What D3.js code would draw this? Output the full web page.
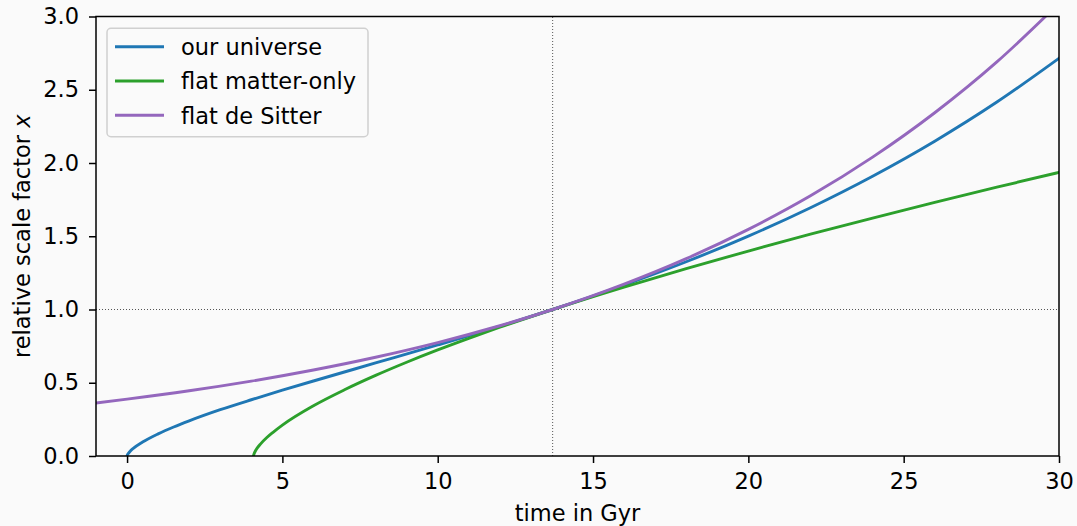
<!DOCTYPE html>
<html lang="en">
<head>
  <meta charset="UTF-8">
  <title>Scale factor vs time</title>
  <script src="https://d3js.org/d3.v7.min.js"></script>
  <style>
    body { margin: 0; background: #fafafa; }
    svg { display: block; font-family: "DejaVu Sans", sans-serif; }
  </style>
</head>
<body>
  <div id="chart"></div>

  <script>
    // curves (time in Gyr, relative scale factor)
    const timeUniverse = [0, 0.01, 0.05, 0.1, 0.2, 0.5, 1, 1.5, 2, 3, 4, 5, 6, 8, 10, 12, 13.7, 16, 18, 20, 22, 24, 26, 28, 30];
    const scaleUniverse = [0, 0.007, 0.020, 0.033, 0.052, 0.095, 0.151, 0.198, 0.240, 0.316, 0.384, 0.449, 0.512, 0.635, 0.758, 0.885, 1.0, 1.167, 1.326, 1.501, 1.695, 1.910, 2.149, 2.416, 2.715];

    const timeMatter = [4.07, 4.08, 4.1, 4.2, 4.3, 4.5, 4.7, 5, 6, 7, 8, 9, 10, 11, 12, 13.7, 16, 18, 20, 22, 24, 26, 28, 30];
    const scaleMatter = [0, 0.010, 0.021, 0.057, 0.083, 0.126, 0.162, 0.211, 0.343, 0.452, 0.550, 0.640, 0.724, 0.803, 0.879, 1.0, 1.153, 1.279, 1.399, 1.514, 1.624, 1.731, 1.835, 1.936];

    const timeSitter = [-1, 0, 2, 4, 6, 8, 10, 12, 13.7, 16, 18, 20, 22, 24, 26, 28, 30];
    const scaleSitter = [0.362, 0.388, 0.445, 0.511, 0.587, 0.674, 0.774, 0.889, 1.0, 1.173, 1.347, 1.547, 1.776, 2.040, 2.343, 2.690, 3.090];

    const seriesNames = ["our universe", "flat matter-only", "flat de Sitter"];
    const seriesColors = ["#1f77b4", "#2ca02c", "#9467bd"];

    const xTicks = [0, 5, 10, 15, 20, 25, 30];
    const yTicks = [0, 0.5, 1.0, 1.5, 2.0, 2.5, 3.0];
    const todayTime = 13.7;
    const todayScale = 1.0;

    const width = 1077, height = 526;
    const margin = { top: 16.5, right: 18, bottom: 70, left: 96 };
    const fontSize = 22.5;

    const svg = d3.select("#chart").append("svg")
      .attr("width", width)
      .attr("height", height);

    svg.append("rect").attr("width", width).attr("height", height).attr("fill", "#fafafa");

    const x = d3.scaleLinear().domain([-1, 30]).range([margin.left, width - margin.right]);
    const y = d3.scaleLinear().domain([0, 3]).range([height - margin.bottom, margin.top]);

    svg.append("clipPath").attr("id", "plot-clip")
      .append("rect")
      .attr("x", x(-1)).attr("y", y(3))
      .attr("width", x(30) - x(-1)).attr("height", y(0) - y(3));

    // reference lines for today
    svg.append("line")
      .attr("x1", x(todayTime)).attr("x2", x(todayTime))
      .attr("y1", y(0)).attr("y2", y(3))
      .attr("stroke", "#555").attr("stroke-width", 1).attr("stroke-dasharray", "1,2");
    svg.append("line")
      .attr("x1", x(-1)).attr("x2", x(30))
      .attr("y1", y(todayScale)).attr("y2", y(todayScale))
      .attr("stroke", "#555").attr("stroke-width", 1).attr("stroke-dasharray", "1,2");

    const series = [
      { t: timeUniverse, a: scaleUniverse },
      { t: timeMatter, a: scaleMatter },
      { t: timeSitter, a: scaleSitter }
    ];

    const line = d3.line()
      .x(d => x(d[0]))
      .y(d => y(d[1]))
      .curve(d3.curveMonotoneX);

    const plot = svg.append("g").attr("clip-path", "url(#plot-clip)");
    series.forEach((s, i) => {
      plot.append("path")
        .datum(s.t.map((t, j) => [t, s.a[j]]))
        .attr("fill", "none")
        .attr("stroke", seriesColors[i])
        .attr("stroke-width", 2.9)
        .attr("stroke-linecap", "square")
        .attr("d", line);
    });

    // axes
    const xAxis = svg.append("g")
      .attr("transform", `translate(0,${y(0)})`)
      .call(d3.axisBottom(x).tickValues(xTicks).tickFormat(d3.format("d")).tickSizeInner(7).tickSizeOuter(0).tickPadding(10));
    const yAxis = svg.append("g")
      .attr("transform", `translate(${x(-1)},0)`)
      .call(d3.axisLeft(y).tickValues(yTicks).tickFormat(d3.format(".1f")).tickSizeInner(7).tickSizeOuter(0).tickPadding(10));

    [xAxis, yAxis].forEach(ax => {
      ax.select(".domain").remove();
      ax.selectAll(".tick line").attr("stroke", "#000").attr("stroke-width", 1.5);
      ax.selectAll(".tick text")
        .attr("fill", "#000")
        .style("font-family", "DejaVu Sans")
        .style("font-size", fontSize + "px");
    });

    // frame
    svg.append("rect")
      .attr("x", x(-1)).attr("y", y(3))
      .attr("width", x(30) - x(-1)).attr("height", y(0) - y(3))
      .attr("fill", "none").attr("stroke", "#000").attr("stroke-width", 1.5);

    // axis labels
    svg.append("text")
      .attr("x", (x(-1) + x(30)) / 2).attr("y", 521)
      .attr("text-anchor", "middle")
      .style("font-size", fontSize + "px")
      .text("time in Gyr");

    const yLabel = svg.append("text")
      .attr("transform", `translate(30,${(y(0) + y(3)) / 2}) rotate(-90)`)
      .attr("text-anchor", "middle")
      .style("font-size", fontSize + "px");
    yLabel.append("tspan").text("relative scale factor ");
    yLabel.append("tspan").attr("font-style", "italic").text("x");

    // legend
    const legend = svg.append("g");
    legend.append("rect")
      .attr("x", 107).attr("y", 28.3).attr("width", 261).attr("height", 108.4)
      .attr("rx", 4)
      .attr("fill", "#fafafa").attr("fill-opacity", 0.8)
      .attr("stroke", "#d0d0d0").attr("stroke-width", 1.5);

    seriesNames.forEach((name, i) => {
      const ly = 46.7 + i * 34.3;
      legend.append("line")
        .attr("x1", 115).attr("x2", 164).attr("y1", ly).attr("y2", ly)
        .attr("stroke", seriesColors[i]).attr("stroke-width", 2.9);
      legend.append("text")
        .attr("x", 181).attr("y", ly + 8.3)
        .style("font-size", fontSize + "px")
        .text(name);
    });
  </script>
</body>
</html>
